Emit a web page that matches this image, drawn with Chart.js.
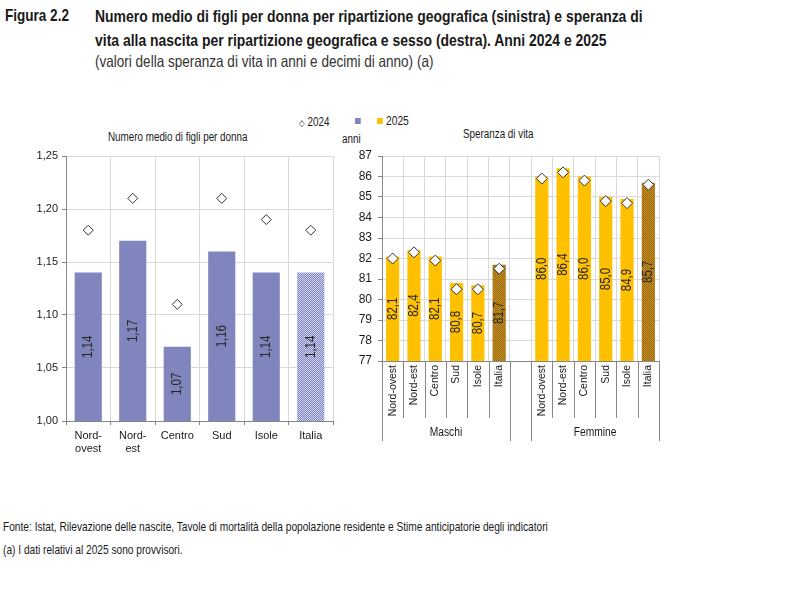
<!DOCTYPE html>
<html>
<head>
<meta charset="utf-8">
<script src="https://cdn.jsdelivr.net/npm/chart.js@4"></script>
<style>
  body { margin:0; width:800px; height:600px; background:#fff; position:relative; overflow:hidden;
         font-family:"Liberation Sans",Arial,sans-serif; color:#1a1a1a; }
  .abs { position:absolute; white-space:nowrap; transform:scaleX(0.82); transform-origin:0 0; }
  canvas { position:absolute; }
</style>
</head>
<body>
<div class="abs" style="left:5px;top:6px;font-weight:bold;font-size:16.5px;">Figura 2.2</div>
<div class="abs" style="left:95px;top:5px;font-weight:bold;font-size:17px;line-height:23.5px;">Numero medio di figli per donna per ripartizione geografica (sinistra) e speranza di<br>vita alla nascita per ripartizione geografica e sesso (destra). Anni 2024 e 2025</div>
<div class="abs" style="left:95px;top:52px;font-size:16.5px;color:#333;">(valori della speranza di vita in anni e decimi di anno) (a)</div>

<div class="abs" style="left:299px;top:115px;font-size:12px;"><span style="font-size:9px;">&#9671;</span> 2024</div>
<div class="abs" style="left:355px;top:118px;width:7px;height:6px;background:#8085bd;"></div>
<div class="abs" style="left:377px;top:118px;width:7px;height:6px;background:#ffc000;"></div>
<div class="abs" style="left:386px;top:114px;font-size:12.5px;">2025</div>
<div class="abs" style="left:342px;top:132px;font-size:12px;">anni</div>

<div class="abs" style="left:108px;top:130px;font-size:12px;">Numero medio di figli per donna</div>
<div class="abs" style="left:463px;top:127px;font-size:12px;">Speranza di vita</div>

<canvas id="figli" width="345" height="320" style="left:0;top:140px;"></canvas>
<canvas id="vita" width="330" height="310" style="left:340px;top:140px;"></canvas>

<div class="abs" style="left:3px;top:520px;font-size:12.4px;">Fonte: Istat, Rilevazione delle nascite, Tavole di mortalità della popolazione residente e Stime anticipatorie degli indicatori</div>
<div class="abs" style="left:3px;top:543px;font-size:12.4px;">(a) I dati relativi al 2025 sono provvisori.</div>

<script>
// dati grafico sinistra
const catsLeft = [['Nord-','ovest'], ['Nord-','est'], 'Centro', 'Sud', 'Isole', 'Italia'];
const figli2025 = [1.14, 1.17, 1.07, 1.16, 1.14, 1.14];
const figli2024 = [1.18, 1.21, 1.11, 1.21, 1.19, 1.18];
const ticksLeft = ['1,00', '1,05', '1,10', '1,15', '1,20', '1,25'];

// dati grafico destra
const ripartizioni = ['Nord-ovest', 'Nord-est', 'Centro', 'Sud', 'Isole', 'Italia'];
const sessi = ['Maschi', 'Femmine'];
const vitaM2025 = [82.1, 82.4, 82.1, 80.8, 80.7, 81.7];
const vitaF2025 = [86.0, 86.4, 86.0, 85.0, 84.9, 85.7];
const vitaM2024 = [82.0, 82.3, 81.9, 80.5, 80.5, 81.5];
const vitaF2024 = [85.9, 86.2, 85.8, 84.8, 84.7, 85.6];

const FONT = '"Liberation Sans", Arial, sans-serif';
Chart.defaults.font.family = FONT;
Chart.defaults.color = '#1a1a1a';

function makePattern(c1, c2) {
  const p = document.createElement('canvas');
  p.width = 2; p.height = 2;
  const g = p.getContext('2d');
  g.fillStyle = c1; g.fillRect(0, 0, 2, 2);
  g.fillStyle = c2; g.fillRect(0, 0, 1, 1); g.fillRect(1, 1, 1, 1);
  return g.createPattern(p, 'repeat');
}
const blu = '#8085bd', giallo = '#ffc000';
const bluItalia = makePattern('#7c82c2', '#d4d6ee');
const gialloItalia = makePattern('#c48e20', '#9c6a10');

// etichette ruotate dentro le barre (testo stretto = scala orizzontale)
function drawBarLabels(chart, dec) {
  const ctx = chart.ctx;
  const meta = chart.getDatasetMeta(0);
  const data = chart.data.datasets[0].data;
  const bottom = chart.chartArea.bottom;
  ctx.save();
  ctx.font = '14px ' + FONT;
  ctx.fillStyle = '#262626';
  ctx.textAlign = 'center';
  ctx.textBaseline = 'middle';
  meta.data.forEach((el, i) => {
    if (data[i] == null) return;
    const base = Math.min(el.base, bottom);
    ctx.save();
    ctx.translate(el.x, (el.y + base) / 2);
    ctx.rotate(-Math.PI / 2);
    ctx.scale(0.82, 1);
    ctx.fillText(data[i].toFixed(dec).replace('.', ','), 0, 0);
    ctx.restore();
  });
  ctx.restore();
}

new Chart(document.getElementById('figli'), {
  type: 'bar',
  data: {
    labels: catsLeft,
    datasets: [{
      label: '2025',
      data: figli2025,
      backgroundColor: figli2025.map((v, i) => i === 5 ? bluItalia : blu),
      barPercentage: 0.61,
      categoryPercentage: 1,
      order: 2
    }, {
      type: 'line',
      label: '2024',
      data: figli2024,
      showLine: false,
      pointStyle: 'rectRot',
      pointRadius: 5,
      pointBackgroundColor: '#fff',
      pointBorderColor: '#333',
      pointBorderWidth: 1,
      order: 1
    }]
  },
  options: {
    responsive: false,
    animation: false,
    layout: { padding: { top: 16, right: 12, left: 0, bottom: 0 } },
    plugins: { legend: { display: false }, tooltip: { enabled: false } },
    scales: {
      x: {
        grid: { color: '#d9d9d9', tickColor: '#868686', tickLength: 4, offset: true },
        border: { color: '#868686' },
        ticks: { font: { size: 11 }, padding: 4, color: '#1a1a1a' },
        afterFit: s => { s.height = 39; }
      },
      y: {
        min: 1.0, max: 1.25,
        grid: { color: '#d9d9d9', tickColor: '#868686', tickLength: 4 },
        border: { color: '#868686' },
        ticks: { stepSize: 0.05, font: { size: 11 }, padding: 4, color: '#1a1a1a',
                 callback: (v, i) => ticksLeft[i] },
        afterFit: s => { s.width = 66; }
      }
    }
  },
  plugins: [{ id: 'labelsFigli', afterDraw: c => drawBarLabels(c, 2) }]
});

// gruppi Maschi / Femmine sotto l'asse
function drawGroups(chart) {
  const ctx = chart.ctx;
  const xs = chart.scales.x;
  const n = chart.data.labels.length;
  const w = xs.width / n;
  const bottom = chart.chartArea.bottom;
  const edge = i => xs.left + i * w;
  ctx.save();
  ctx.strokeStyle = '#868686';
  ctx.lineWidth = 1;
  const line = (i, len) => {
    const x = Math.round(edge(i)) + 0.5;
    ctx.beginPath(); ctx.moveTo(x, bottom); ctx.lineTo(x, bottom + len); ctx.stroke();
  };
  [1, 2, 3, 4, 5, 8, 9, 10, 11, 12].forEach(i => line(i, 57));
  [0, 6, 7, 13].forEach(i => line(i, 80));
  ctx.font = '12.5px ' + FONT;
  ctx.fillStyle = '#1a1a1a';
  ctx.textAlign = 'center';
  ctx.textBaseline = 'middle';
  [[0, 6], [7, 13]].forEach((g, k) => {
    ctx.save();
    ctx.translate((edge(g[0]) + edge(g[1])) / 2, bottom + 72);
    ctx.scale(0.82, 1);
    ctx.fillText(sessi[k], 0, 0);
    ctx.restore();
  });
  ctx.restore();
}

const vita2025 = vitaM2025.concat([null], vitaF2025);
const vita2024 = vitaM2024.concat([null], vitaF2024);

new Chart(document.getElementById('vita'), {
  type: 'bar',
  data: {
    labels: ripartizioni.concat([''], ripartizioni),
    datasets: [{
      label: '2025',
      data: vita2025,
      backgroundColor: vita2025.map((v, i) => (i === 5 || i === 12) ? gialloItalia : giallo),
      barPercentage: 0.62,
      categoryPercentage: 1,
      order: 2
    }, {
      type: 'line',
      label: '2024',
      data: vita2024,
      showLine: false,
      pointStyle: 'rectRot',
      pointRadius: 5.5,
      pointBackgroundColor: '#fff',
      pointBorderColor: '#333',
      pointBorderWidth: 1,
      order: 1
    }]
  },
  options: {
    responsive: false,
    animation: false,
    layout: { padding: { top: 16, right: 11, left: 0, bottom: 0 } },
    plugins: { legend: { display: false }, tooltip: { enabled: false } },
    scales: {
      x: {
        grid: { color: '#d9d9d9', drawTicks: false, offset: true },
        border: { color: '#868686' },
        ticks: { font: { size: 10.5 }, padding: 4, color: '#1a1a1a', minRotation: 90, maxRotation: 90, autoSkip: false },
        afterFit: s => { s.height = 89; }
      },
      y: {
        min: 77, max: 87,
        grid: { color: '#d9d9d9', tickColor: '#868686', tickLength: 4 },
        border: { color: '#868686' },
        ticks: { stepSize: 1, font: { size: 12 }, padding: 6, color: '#1a1a1a' },
        afterFit: s => { s.width = 42; }
      }
    }
  },
  plugins: [{ id: 'labelsVita', afterDraw: c => { drawBarLabels(c, 1); drawGroups(c); } }]
});
</script>
</body>
</html>
